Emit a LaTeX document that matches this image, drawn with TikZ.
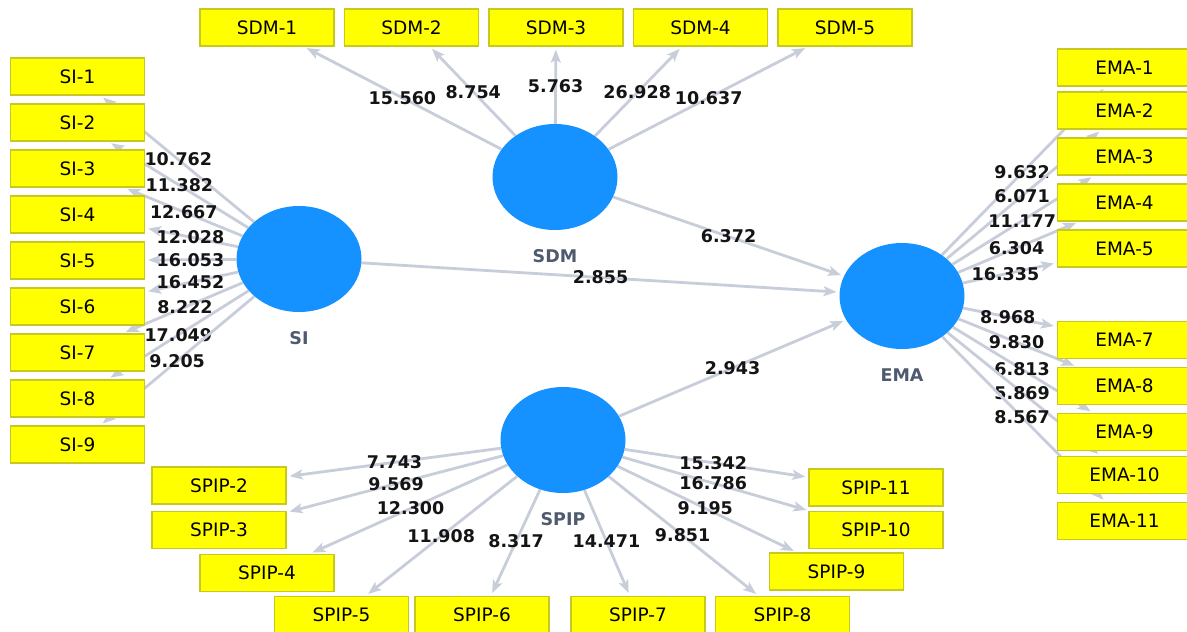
\documentclass[tikz,border=0pt]{standalone}
\usepackage{fontspec}
\setmainfont{DejaVu Sans}
\usepackage{tikz}
\usetikzlibrary{arrows.meta,shapes.geometric,calc,backgrounds}
\tikzset{>={Stealth[length=13pt,width=10pt,inset=3pt]}}
\definecolor{latblue}{HTML}{1592FF}
\definecolor{indyel}{HTML}{FFFF00}
\definecolor{indedge}{HTML}{C8C81E}
\definecolor{pathgray}{HTML}{C8CDDA}
\definecolor{latlab}{HTML}{4F5A6E}
\definecolor{tvtext}{HTML}{141414}
\tikzset{
  latent/.style={ellipse,fill=latblue,draw=none,minimum width=125pt,minimum height=106pt,inner sep=0pt},
  latname/.style={font=\bfseries\fontsize{17.5}{18}\selectfont,text=latlab,inner sep=0pt,label distance=19pt},
  ind/.style={rectangle,fill=indyel,draw=indedge,line width=1.4pt,minimum width=134pt,
    minimum height=37pt,inner sep=0pt,font=\fontsize{18.5}{19}\selectfont},
  tval/.style={font=\bfseries\fontsize{17.5}{18}\selectfont,text=tvtext,inner sep=0pt},
  path/.style={->,draw=pathgray,line width=2.8pt,shorten >=3pt}
}

\begin{document}
\begin{tikzpicture}[x=1pt,y=-1pt]
\useasboundingbox (0,0) rectangle (1187,632);
% constructs
\node[latent,label={[latname]below:SI}] (si) at (299,259) {};
\node[latent,label={[latname]below:SDM}] (sdm) at (555,177) {};
\node[latent,label={[latname]below:EMA}] (ema) at (902,296) {};
\node[latent,label={[latname]below:SPIP}] (spip) at (563,440) {};
% indicator boxes
\foreach \i in {1,...,9}
  \node[ind] (si\i) at (77.5,{76.5+46*(\i-1)}) {SI-\i};
\foreach \i in {1,...,5}
  \node[ind] (sdm\i) at ({267+144.5*(\i-1)},27.5) {SDM-\i};
\foreach \i/\y in {1/67.5,2/110.5,3/156.5,4/202.5,5/248.5,7/340,8/386,9/432,10/475,11/521}
  \node[ind] (ema\i) at (1124.5,\y) {EMA-\i};
\foreach \i/\x/\y in {2/219/485.5,3/219/530,4/267/573,5/341.5/615,6/482/615,
    7/638/615,8/782.5/615,9/836.5/571.5,10/876/530,11/876/487.5}
  \node[ind] (spip\i) at (\x,\y) {SPIP-\i};

\begin{pgfonlayer}{background}
% outer loadings
\foreach \i/\tp/\val in {1/.545/10.762,2/.54/11.382,3/.52/12.667,4/.49/12.028,5/.49/16.053,
    6/.49/16.452,7/.515/8.222,8/.545/17.049,9/.55/9.205}{
  \draw[path] (si) -- (si\i);
  \node[tval] at ($(si)!\tp!(si\i)$) {\val};
}
\foreach \i/\tp/\val in {1/.53/15.560,2/.57/8.754,3/.61/5.763,4/.565/26.928,5/.53/10.637}{
  \draw[path] (sdm) -- (sdm\i);
  \node[tval] at ($(sdm)!\tp!(sdm\i)$) {\val};
}
\foreach \i/\tp/\val in {1/.54/9.632,2/.54/6.071,3/.54/11.177,4/.515/6.304,5/.465/16.335,
    7/.475/8.968,8/.515/9.830,9/.54/6.813,10/.54/5.869,11/.54/8.567}{
  \draw[path] (ema) -- (ema\i);
  \node[tval] at ($(ema)!\tp!(ema\i)$) {\val};
}
\foreach \i/\tp/\val in {2/.49/7.743,3/.485/9.569,4/.515/12.300,5/.55/11.908,6/.58/8.317,
    7/.58/14.471,8/.545/9.851,9/.52/9.195,10/.48/16.786,11/.48/15.342}{
  \draw[path] (spip) -- (spip\i);
  \node[tval] at ($(spip)!\tp!(spip\i)$) {\val};
}
% inner model
\draw[path] (sdm) -- (ema);
\node[tval] at ($(sdm)!.5!(ema)$) {6.372};
\draw[path] (si) -- (ema);
\node[tval] at ($(si)!.5!(ema)$) {2.855};
\draw[path] (spip) -- (ema);
\node[tval] at ($(spip)!.5!(ema)$) {2.943};
\end{pgfonlayer}
\end{tikzpicture}
\end{document}
